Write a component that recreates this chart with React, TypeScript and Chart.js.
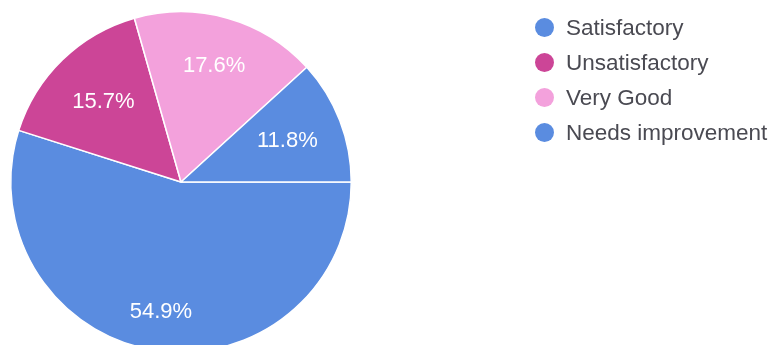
import React, { useEffect, useRef } from "react";
import { Chart, registerables } from "chart.js";

Chart.register(...registerables);

const categories = ["Satisfactory", "Unsatisfactory", "Very Good", "Needs improvement"];
const counts = [28, 8, 9, 6];
const percentLabels = ["54.9%", "15.7%", "17.6%", "11.8%"];
const colors = ["#5a8ce0", "#cc4597", "#f3a1dc", "#5a8ce0"];

const FONT = "'Liberation Sans', Arial, sans-serif";
// radial placement of each slice label, as a fraction of the radius
const LABEL_RADIUS = [0.77, 0.655, 0.71, 0.67];

const labelPlugin = {
  id: "sliceLabels",
  afterDatasetsDraw(chart: any) {
    const ctx = chart.ctx;
    const meta = chart.getDatasetMeta(0);
    ctx.save();
    ctx.fillStyle = "#ffffff";
    ctx.font = `22px ${FONT}`;
    ctx.textAlign = "center";
    ctx.textBaseline = "middle";
    meta.data.forEach((arc: any, i: number) => {
      const p = arc.getProps(["x", "y", "startAngle", "endAngle", "outerRadius"], true);
      const mid = (p.startAngle + p.endAngle) / 2;
      const r = p.outerRadius * LABEL_RADIUS[i];
      ctx.fillText(percentLabels[i], p.x + Math.cos(mid) * r, p.y + Math.sin(mid) * r);
    });
    ctx.restore();
  },
};

export default function App() {
  const ref = useRef<HTMLCanvasElement | null>(null);
  useEffect(() => {
    if (!ref.current) return;
    const chart = new Chart(ref.current, {
      type: "pie",
      data: {
        labels: categories,
        datasets: [
          {
            data: counts,
            backgroundColor: colors,
            borderColor: "#ffffff",
            borderWidth: 1.5,
          },
        ],
      },
      options: {
        responsive: false,
        animation: false,
        rotation: 90,
        layout: { padding: { left: 10, top: 11, right: 421, bottom: 12 } },
        plugins: {
          legend: { display: false },
          tooltip: { enabled: false },
        },
      },
      plugins: [labelPlugin],
    });
    return () => chart.destroy();
  }, []);

  return (
    <div
      style={{
        position: "fixed",
        left: 0,
        top: 0,
        width: 773,
        height: 345,
        overflow: "hidden",
        background: "#ffffff",
      }}
    >
      <canvas ref={ref} width={773} height={365} style={{ position: "absolute", left: 0, top: 0 }} />
      <div style={{ position: "absolute", left: 535, top: 10, fontFamily: FONT, fontSize: 22.5, color: "#4a4a52" }}>
        {categories.map((c, i) => (
          <div key={c} style={{ display: "flex", alignItems: "center", height: 35 }}>
            <span
              style={{
                display: "inline-block",
                width: 19,
                height: 19,
                borderRadius: "50%",
                background: colors[i],
                marginRight: 12,
              }}
            />
            <span style={{ lineHeight: "35px", whiteSpace: "nowrap" }}>{c}</span>
          </div>
        ))}
      </div>
    </div>
  );
}
